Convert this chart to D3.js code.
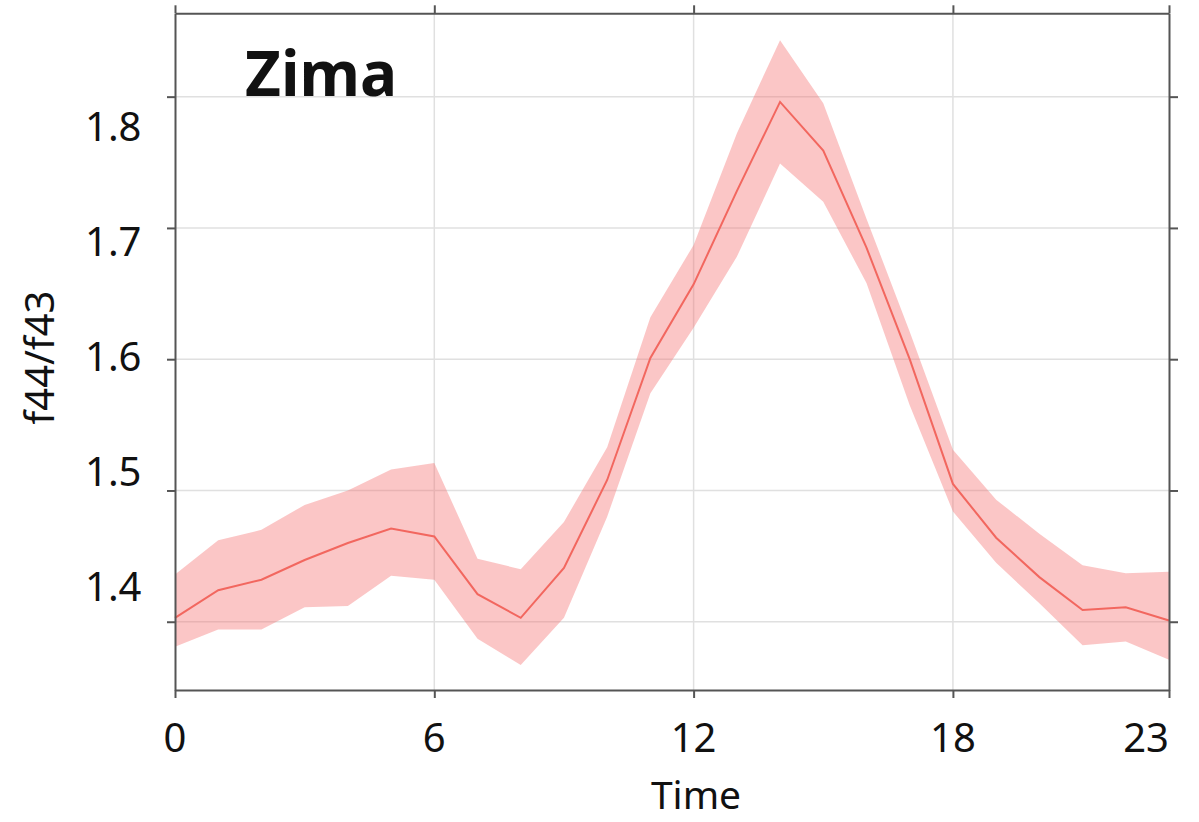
<!DOCTYPE html>
<html>
<head>
<meta charset="utf-8">
<script src="https://cdn.jsdelivr.net/npm/d3@7"></script>
<style>
  body { margin: 0; background: #fff; }
  text { font-family: "Noto Sans", sans-serif; fill: #111; }
</style>
</head>
<body>
<div id="chart"></div>
<script>
// data
var hours = [0, 1, 2, 3, 4, 5, 6, 7, 8, 9, 10, 11, 12, 13, 14, 15, 16, 17, 18, 19, 20, 21, 22, 23];
var meanVals = [1.403, 1.424, 1.432, 1.447, 1.460, 1.471, 1.465, 1.421, 1.403, 1.441, 1.508, 1.601,
  1.657, 1.728, 1.796, 1.759, 1.685, 1.600, 1.505, 1.464, 1.434, 1.409, 1.411, 1.401];
var upperVals = [1.436, 1.462, 1.470, 1.489, 1.500, 1.516, 1.521, 1.448, 1.440, 1.476, 1.533, 1.632,
  1.687, 1.772, 1.843, 1.795, 1.707, 1.621, 1.531, 1.493, 1.467, 1.443, 1.437, 1.438];
var lowerVals = [1.381, 1.394, 1.394, 1.411, 1.412, 1.435, 1.432, 1.387, 1.367, 1.403, 1.480, 1.574,
  1.624, 1.678, 1.749, 1.720, 1.658, 1.565, 1.484, 1.445, 1.414, 1.382, 1.385, 1.371];
var xTicks = [0, 6, 12, 18, 23];
var yTicks = [1.4, 1.5, 1.6, 1.7, 1.8];
var title = "Zima";
var xTitle = "Time";
var yTitle = "f44/f43";

var svgWidth = 1199;
var svgHeight = 822;
var margin = { top: 13.3, right: 30, bottom: 132, left: 175 };
var width = 1169 - margin.left;
var height = 690 - margin.top;

var svg = d3.select("#chart")
  .append("svg")
  .attr("width", svgWidth)
  .attr("height", svgHeight);

var chartGroup = svg.append("g")
  .attr("transform", `translate(${margin.left}, ${margin.top})`);

var xScale = d3.scaleLinear().domain([0, 23]).range([0, width]);
var yScale = d3.scaleLinear().domain([1.348, 1.8635]).range([height, 0]);
// tick labels in the source sit on their own, slightly tighter spacing
var yLabelScale = d3.scaleLinear().domain([1.4, 1.8]).range([586.5 - margin.top, 126.5 - margin.top]);

// grid
chartGroup.append("g")
  .selectAll("line")
  .data([6, 12, 18])
  .enter()
  .append("line")
  .attr("x1", (d) => xScale(d))
  .attr("x2", (d) => xScale(d))
  .attr("y1", 0)
  .attr("y2", height)
  .attr("stroke", "#e0e0e0")
  .attr("stroke-width", 1.5);

chartGroup.append("g")
  .selectAll("line")
  .data(yTicks)
  .enter()
  .append("line")
  .attr("x1", 0)
  .attr("x2", width)
  .attr("y1", (d) => yScale(d))
  .attr("y2", (d) => yScale(d))
  .attr("stroke", "#e0e0e0")
  .attr("stroke-width", 1.5);

// band + mean line
var rows = hours.map((h, i) => ({ h: h, m: meanVals[i], hi: upperVals[i], lo: lowerVals[i] }));

var area = d3.area()
  .x((d) => xScale(d.h))
  .y0((d) => yScale(d.lo))
  .y1((d) => yScale(d.hi));

chartGroup.append("path")
  .datum(rows)
  .attr("d", area)
  .attr("fill", "rgba(245,112,112,0.4)");

var line = d3.line()
  .x((d) => xScale(d.h))
  .y((d) => yScale(d.m));

chartGroup.append("path")
  .datum(rows)
  .attr("d", line)
  .attr("fill", "none")
  .attr("stroke", "#f2675f")
  .attr("stroke-width", 2);

// axes (box with outward ticks)
function styleAxis(g) {
  g.selectAll("path, line").attr("stroke", "#555").attr("stroke-width", 2);
  g.selectAll("text").remove();
}

chartGroup.append("g")
  .attr("transform", `translate(0, ${height})`)
  .call(d3.axisBottom(xScale).tickValues(xTicks).tickSizeInner(8).tickSizeOuter(0))
  .call(styleAxis);

chartGroup.append("g")
  .call(d3.axisTop(xScale).tickValues(xTicks).tickSizeInner(8).tickSizeOuter(0))
  .call(styleAxis);

chartGroup.append("g")
  .call(d3.axisLeft(yScale).tickValues(yTicks).tickSizeInner(8).tickSizeOuter(0))
  .call(styleAxis);

chartGroup.append("g")
  .attr("transform", `translate(${width}, 0)`)
  .call(d3.axisRight(yScale).tickValues(yTicks).tickSizeInner(9).tickSizeOuter(0))
  .call(styleAxis);

// tick labels
chartGroup.append("g")
  .selectAll("text")
  .data(xTicks)
  .enter()
  .append("text")
  .attr("x", (d) => xScale(d))
  .attr("y", 752 - margin.top)
  .attr("text-anchor", (d) => (d === 23 ? "end" : "middle"))
  .attr("font-size", "40px")
  .text((d) => d);

chartGroup.append("g")
  .selectAll("text")
  .data(yTicks)
  .enter()
  .append("text")
  .attr("x", 141.5 - margin.left)
  .attr("y", (d) => yLabelScale(d))
  .attr("dy", "0.357em")
  .attr("text-anchor", "end")
  .attr("font-size", "40px")
  .text((d) => d3.format(".1f")(d));

// titles
svg.append("text")
  .attr("x", 696)
  .attr("y", 809)
  .attr("text-anchor", "middle")
  .attr("font-size", "39px")
  .text(xTitle);

svg.append("text")
  .attr("transform", "translate(54, 357.5) rotate(-90)")
  .attr("text-anchor", "middle")
  .attr("font-size", "40px")
  .text(yTitle);

svg.append("text")
  .attr("x", 245)
  .attr("y", 96)
  .attr("font-size", "62px")
  .attr("font-weight", "bold")
  .text(title);
</script>
</body>
</html>
